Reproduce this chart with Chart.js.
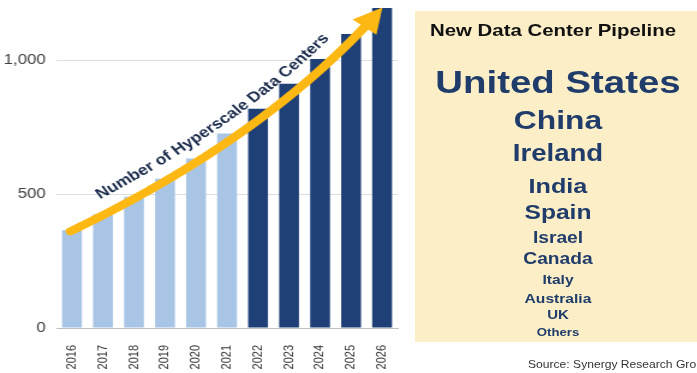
<!DOCTYPE html>
<html>
<head>
<meta charset="utf-8">
<script src="https://cdn.jsdelivr.net/npm/chart.js@4.4.0/dist/chart.umd.min.js"></script>
<style>
  html, body { margin: 0; padding: 0; background: #fff; }
  #wrap { position: relative; width: 697px; height: 373px; overflow: hidden; font-family: "Liberation Sans", Arial, sans-serif; }
  #hyperscaleChart { position: absolute; left: 0; top: 0; display: block; }
  #pipeline { position: absolute; left: 415px; top: 11px; width: 300px; height: 331px; background: #FCEFC7; }
  .pl { position: absolute; left: 0; width: 286px; text-align: center; font-weight: bold; white-space: nowrap; transform: scaleX(1.2); color: #1F3C6B; }
  .pl.title { color: #111; left: -5px; }
  #source { position: absolute; left: 528px; top: 359px; font-size: 11px; line-height: 11px; color: #333; white-space: nowrap; transform: scaleX(1.1); transform-origin: left center; }
</style>
</head>
<body>
<div id="wrap">
  <canvas id="hyperscaleChart" width="333" height="373" style="width:400px;height:373px"></canvas>
  <div id="pipeline"></div>
  <div id="source"></div>
</div>
<script>
// Data
const years = ['2016', '2017', '2018', '2019', '2020', '2021', '2022', '2023', '2024', '2025', '2026'];
const hyperscaleCount = [365, 425, 490, 557, 633, 726, 819, 912, 1005, 1098, 1195];
const forecastFrom = '2022';
const yTickValues = [0, 500, 1000];
const arrowLabel = 'Number of Hyperscale Data Centers';

const pipelineTitle = 'New Data Center Pipeline';
const pipelineCountries = ['United States', 'China', 'Ireland', 'India', 'Spain', 'Israel', 'Canada', 'Italy', 'Australia', 'UK', 'Others'];
const sourceNote = 'Source: Synergy Research Group';

// Styles for the pipeline list (font px and vertical centre in page px)
const pipelineFontPx = [32, 26.5, 23, 21, 20.5, 16, 16, 13, 13, 12.5, 11];
const pipelineCenterY = [82, 120, 153, 185, 212, 238, 259, 279, 298, 315, 332];

// Arrow anchor points in chart data space: [category index, value]
const arrowStart = [-0.05, 361];
const arrowCtrl = [6.38, 719];
const arrowEnd = [10.01, 1197];

const lightBlue = '#A9C5E6';
const darkBlue = '#1F3F77';
const arrowYellow = '#FDB813';

// Right-hand panel
const panel = document.getElementById('pipeline');
function addLine(text, size, cy, cls) {
    const d = document.createElement('div');
    d.className = 'pl ' + (cls || '');
    d.textContent = text;
    d.style.fontSize = size + 'px';
    d.style.lineHeight = size + 'px';
    d.style.top = (cy - 11 - 0.49 * size) + 'px';
    panel.appendChild(d);
}
addLine(pipelineTitle, 17, 30.5, 'title');
pipelineCountries.forEach((c, i) => addLine(c, pipelineFontPx[i], pipelineCenterY[i]));
document.getElementById('source').textContent = sourceNote;

// Arrow with label along it
function quad(p0, c, p2, t) {
    const u = 1 - t;
    return {
        x: u * u * p0.x + 2 * u * t * c.x + t * t * p2.x,
        y: u * u * p0.y + 2 * u * t * c.y + t * t * p2.y
    };
}

const arrowPlugin = {
    id: 'hyperscaleArrow',
    afterDatasetsDraw(chart) {
        const { ctx, scales: { x, y } } = chart;
        const pt = ([i, v]) => ({ x: x.getPixelForValue(i), y: y.getPixelForValue(v) });
        const p0 = pt(arrowStart), c = pt(arrowCtrl), p2 = pt(arrowEnd);

        // sample the curve
        const N = 400;
        const pts = [];
        for (let k = 0; k <= N; k++) pts.push(quad(p0, c, p2, k / N));

        // where the shaft stops and the head starts
        const headLen = 24, headHalf = 12.5;
        let acc = 0, cut = N;
        for (let k = N; k > 0; k--) {
            acc += Math.hypot(pts[k].x - pts[k - 1].x, pts[k].y - pts[k - 1].y);
            if (acc >= headLen) { cut = k - 1; break; }
        }

        ctx.save();
        ctx.strokeStyle = arrowYellow;
        ctx.fillStyle = arrowYellow;
        ctx.lineWidth = 8;
        ctx.lineCap = 'round';
        ctx.beginPath();
        ctx.moveTo(pts[0].x, pts[0].y);
        for (let k = 1; k <= cut + 2; k++) ctx.lineTo(pts[k].x, pts[k].y);
        ctx.stroke();

        const base = pts[cut];
        const dx = p2.x - base.x, dy = p2.y - base.y;
        const len = Math.hypot(dx, dy);
        const nx = -dy / len, ny = dx / len;
        ctx.beginPath();
        ctx.moveTo(p2.x, p2.y);
        ctx.lineTo(base.x + nx * headHalf, base.y + ny * headHalf);
        ctx.lineTo(base.x - nx * headHalf, base.y - ny * headHalf);
        ctx.closePath();
        ctx.fill();

        // text path: offset above the arrow, between two category positions
        const xFrom = x.getPixelForValue(0.9), xTo = x.getPixelForValue(8.32);
        const offset = 15;
        const path = [];
        for (let k = 1; k < N; k++) {
            const tx = pts[k + 1].x - pts[k - 1].x, ty = pts[k + 1].y - pts[k - 1].y;
            const tl = Math.hypot(tx, ty);
            const q = { x: pts[k].x + (ty / tl) * offset, y: pts[k].y - (tx / tl) * offset };
            if (q.x >= xFrom && q.x <= xTo) path.push(q);
        }
        const cum = [0];
        for (let k = 1; k < path.length; k++) {
            cum.push(cum[k - 1] + Math.hypot(path[k].x - path[k - 1].x, path[k].y - path[k - 1].y));
        }
        const total = cum[cum.length - 1];

        const family = '"Liberation Sans", Arial, sans-serif';
        ctx.font = 'bold 14px ' + family;
        const fs = 14 * total / ctx.measureText(arrowLabel).width;
        ctx.font = 'bold ' + fs + 'px ' + family;
        ctx.fillStyle = '#1B2C4C';
        ctx.textAlign = 'center';
        ctx.textBaseline = 'alphabetic';

        let s = 0, j = 0;
        for (const ch of arrowLabel) {
            const w = ctx.measureText(ch).width;
            const mid = s + w / 2;
            while (j < cum.length - 2 && cum[j + 1] < mid) j++;
            const a = path[j], b = path[j + 1];
            const f = (mid - cum[j]) / ((cum[j + 1] - cum[j]) || 1);
            ctx.save();
            ctx.translate(a.x + (b.x - a.x) * f, a.y + (b.y - a.y) * f);
            ctx.rotate(Math.atan2(b.y - a.y, b.x - a.x));
            ctx.fillText(ch, 0, 0);
            ctx.restore();
            s += w;
        }
        ctx.restore();
    }
};

new Chart(document.getElementById('hyperscaleChart'), {
    type: 'bar',
    data: {
        labels: years,
        datasets: [{
            data: hyperscaleCount,
            backgroundColor: years.map(yr => yr >= forecastFrom ? darkBlue : lightBlue),
            borderWidth: 0,
            barPercentage: 0.64,
            categoryPercentage: 1
        }]
    },
    options: {
        responsive: false,
        animation: false,
        devicePixelRatio: 1,
        layout: { padding: { top: 0, right: 2, bottom: 0, left: 0 } },
        plugins: {
            legend: { display: false },
            tooltip: { enabled: false }
        },
        scales: {
            x: {
                grid: { display: false },
                border: { color: '#bfbfbf' },
                ticks: {
                    color: '#333',
                    font: { size: 11, family: '"Liberation Sans", Arial, sans-serif' },
                    minRotation: 90,
                    maxRotation: 90,
                    autoSkip: false,
                    padding: 9
                },
                afterFit: s => { s.height = 45; s.paddingLeft = 0; s.paddingRight = 0; }
            },
            y: {
                min: 0,
                max: 1225,
                border: { display: false },
                grid: {
                    color: ctx => ctx.tick && ctx.tick.value === 0 ? '#bfbfbf' : '#dedede',
                    drawTicks: false
                },
                ticks: {
                    color: '#404040',
                    font: { size: 14, family: '"Liberation Sans", Arial, sans-serif' },
                    padding: 9
                },
                afterBuildTicks: s => { s.ticks = yTickValues.map(v => ({ value: v })); },
                afterFit: s => { s.width = 47; s.paddingTop = 0; s.paddingBottom = 0; }
            }
        }
    },
    plugins: [arrowPlugin]
});
</script>
</body>
</html>
